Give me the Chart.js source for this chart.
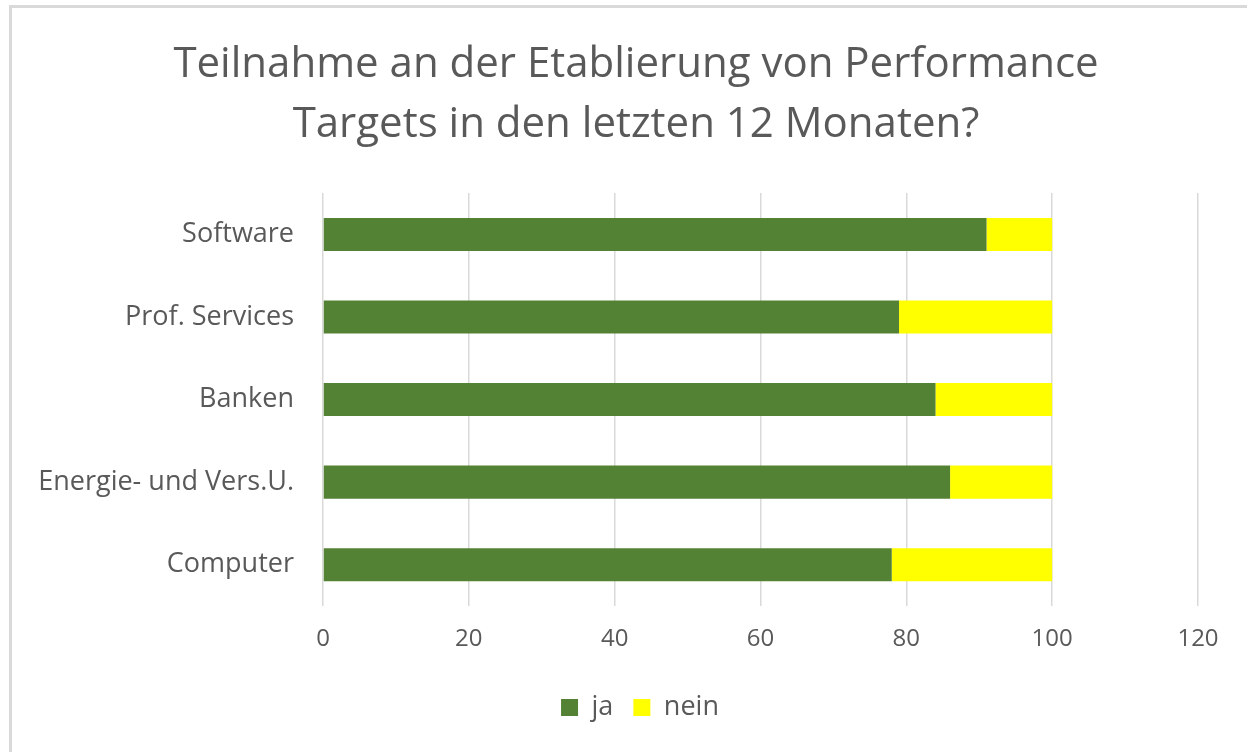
<!DOCTYPE html>
<html><head><meta charset="utf-8">
<script src="https://cdn.jsdelivr.net/npm/chart.js@4"></script>
<style>
html,body{margin:0;padding:0;background:#fff;}
#wrap{position:relative;width:1247px;height:752px;}
#border{position:absolute;left:9px;top:5px;width:1250px;height:760px;border:3px solid #d9d9d9;box-sizing:border-box;pointer-events:none;}
canvas{position:absolute;left:0;top:0;}
</style></head><body>
<div id="wrap"><canvas id="c" width="1247" height="752"></canvas><div id="border"></div></div>
<script>
const categories = ["Software", "Prof. Services", "Banken", "Energie- und Vers.U.", "Computer"];
const jaValues = [91, 79, 84, 86, 78];
const neinValues = [9, 21, 16, 14, 22];
const seriesNames = ["ja", "nein"];
const titleLines = ["Teilnahme an der Etablierung von Performance", "Targets in den letzten 12 Monaten?"];

const FONT = "'Open Sans', sans-serif";
const GREY = "#595959";

// shift title and legend horizontally so they centre like the reference
const shiftBoxes = {
  id: 'shiftBoxes',
  afterLayout(chart) {
    if (chart.titleBlock) { chart.titleBlock.left += 27; chart.titleBlock.right += 27; }
    if (chart.legend) { chart.legend.left += 31; chart.legend.right += 31; }
  }
};

new Chart(document.getElementById('c'), {
  type: 'bar',
  data: {
    labels: categories,
    datasets: [
      {label: seriesNames[0], data: jaValues, backgroundColor: '#548235', borderWidth: 0},
      {label: seriesNames[1], data: neinValues, backgroundColor: '#FFFF00', borderWidth: 0}
    ]
  },
  options: {
    indexAxis: 'y',
    responsive: false,
    animation: false,
    layout: {padding: {left: 20, right: 49, top: 35, bottom: 21}},
    datasets: {bar: {barPercentage: 0.4, categoryPercentage: 1.0}},
    scales: {
      x: {
        stacked: true, min: 0, max: 120,
        ticks: {stepSize: 20, color: GREY, font: {family: FONT, size: 24}, padding: 19},
        grid: {color: '#d9d9d9', lineWidth: 1.5, drawTicks: false},
        border: {display: false},
        afterFit: s => { s.height = 68; }
      },
      y: {
        stacked: true,
        ticks: {color: GREY, font: {family: FONT, size: 27}, padding: 21},
        grid: {display: false},
        border: {display: false},
        afterFit: s => { s.width = 303; }
      }
    },
    plugins: {
      title: {display: true, text: titleLines, color: GREY, font: {family: FONT, size: 42, weight: 'normal', lineHeight: 1.43}, padding: {top: 0, bottom: 38}},
      legend: {position: 'bottom', labels: {color: GREY, font: {family: FONT, size: 27}, boxWidth: 17, boxHeight: 17, padding: 20}},
      tooltip: {enabled: false}
    }
  },
  plugins: [shiftBoxes]
});
</script>
</body></html>
